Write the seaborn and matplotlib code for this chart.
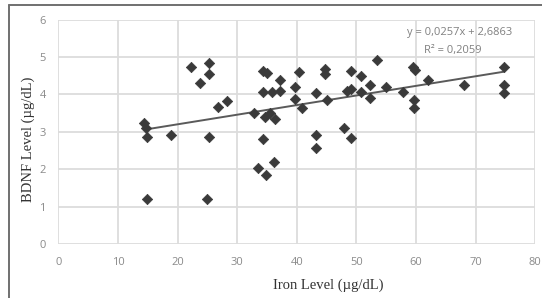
import matplotlib
matplotlib.use("Agg")
import matplotlib.pyplot as plt
from matplotlib.lines import Line2D
import seaborn as sns
import numpy as np
import pandas as pd

iron = [14.4, 14.7, 14.9, 14.9, 18.9, 22.3, 23.8, 24.9, 25.3, 25.3, 25.3, 26.7, 28.3,
        32.9, 33.5, 34.3, 35.0, 34.3, 34.3, 34.7, 34.8, 35.5, 35.8, 36.2, 36.4, 37.2, 37.2,
        39.7, 39.7, 40.3, 40.8, 43.2, 43.2, 43.2, 44.7, 44.7, 45.1, 48.0, 48.4, 49.1, 49.1,
        49.1, 50.7, 50.8, 52.3, 52.2, 53.5, 55.0, 57.8, 59.5, 59.9, 59.6, 59.6, 62.0, 68.0,
        74.7, 74.7, 74.7]
bdnf = [3.23, 3.10, 2.86, 1.19, 2.91, 4.74, 4.30, 1.19, 4.85, 4.55, 2.85, 3.67, 3.82,
        3.50, 2.02, 4.62, 4.58, 4.06, 2.80, 3.40, 1.84, 3.50, 4.06, 2.18, 3.35, 4.39, 4.10,
        4.19, 3.87, 4.61, 3.63, 4.03, 2.91, 2.57, 4.69, 4.55, 3.86, 3.09, 4.08, 4.15, 4.63,
        2.84, 4.48, 4.06, 4.26, 3.90, 4.91, 4.20, 4.07, 4.73, 4.66, 3.85, 3.63, 4.39, 4.25,
        4.74, 4.25, 4.03]
slope = 0.0257
intercept = 2.6863
r2 = 0.2059
x_ticks = [0, 10, 20, 30, 40, 50, 60, 70, 80]
y_ticks = [0, 1, 2, 3, 4, 5, 6]

df = pd.DataFrame({"iron": iron, "bdnf": bdnf})

sns.set_style("white")
fig = plt.figure(figsize=(5.42, 2.98), dpi=100)
ax = fig.add_axes([0.1076, 0.1812, 0.88, 0.7530])

sns.scatterplot(data=df, x="iron", y="bdnf", marker="D", s=28, color="#3a3a3a",
                edgecolor="#3a3a3a", linewidth=0.5, ax=ax, zorder=3)

xl = np.array([min(iron), max(iron)])
ax.plot(xl, slope * xl + intercept, color="#5a5a5a", lw=1.4, zorder=2)

ax.set_xlim(0, 80)
ax.set_ylim(0, 6)
ax.set_xticks(x_ticks)
ax.set_yticks(y_ticks)
ax.grid(True, color="#dcdcdc", lw=1.3)
ax.set_axisbelow(True)
for s in ax.spines.values():
    s.set_visible(False)
ax.tick_params(axis="both", length=0, labelsize=8, labelcolor="#8a8a8a", pad=9)
for lab in ax.get_xticklabels() + ax.get_yticklabels():
    lab.set_family("Open Sans")

ax.set_xlabel("Iron Level (µg/dL)", family="Liberation Serif", fontsize=10.5,
              color="#333333")
ax.set_ylabel("BDNF Level (µg/dL)", family="Liberation Serif", fontsize=10.5,
              color="#333333")
ax.xaxis.label.set_va("center")
ax.yaxis.label.set_va("center")
ax.xaxis.set_label_coords(0.565, -0.186)
ax.yaxis.set_label_coords(-0.0635, 0.468)

eq = "y = {:.4f}x + {:.4f}".format(slope, intercept).replace(".", ",")
rr = "R² = {:.4f}".format(r2).replace(".", ",")
fig.text(460 / 542, 1 - 32 / 298, eq, ha="center", va="center", fontsize=8,
         color="#808080", family="Open Sans")
fig.text(453 / 542, 1 - 51 / 298, rr, ha="center", va="center", fontsize=8,
         color="#808080", family="Open Sans")

fig.add_artist(Line2D([9 / 542, 9 / 542], [0, 1 - 5 / 298], transform=fig.transFigure,
                      color="#707070", lw=1.4))
fig.add_artist(Line2D([9 / 542, 1], [1 - 5 / 298, 1 - 5 / 298], transform=fig.transFigure,
                      color="#707070", lw=1.4))

fig.savefig("out.png", dpi=100)
